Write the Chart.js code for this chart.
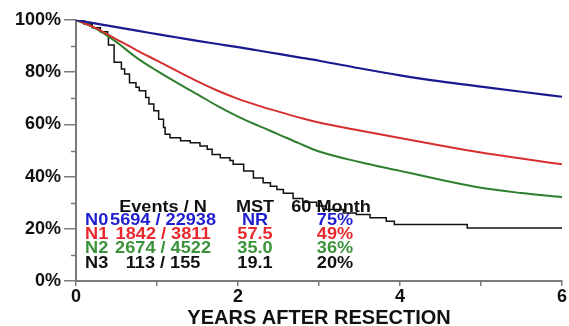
<!DOCTYPE html>
<html>
<head>
<meta charset="utf-8">
<script src="https://cdn.jsdelivr.net/npm/chart.js@4/dist/chart.umd.min.js"></script>
<style>
  html, body { margin: 0; padding: 0; background: #ffffff; }
  #wrap { width: 569px; height: 326px; position: relative; }
</style>
</head>
<body>
<div id="wrap"><canvas id="c" width="569" height="326"></canvas></div>
<script>
// ---- data ----
const groups = ['N0', 'N1', 'N2', 'N3'];
const eventsN = ['5694 / 22938', '1842 / 3811', '2674 / 4522', '113 / 155'];
const mstValues = ['NR', '57.5', '35.0', '19.1'];
const month60 = ['75%', '49%', '36%', '20%'];

const yearGrid = [0, 0.25, 0.5, 0.75, 1, 1.25, 1.5, 1.75, 2, 2.25, 2.5, 2.75, 3, 3.5, 4, 4.5, 5, 5.5, 6];
const n0Survival = [100, 98.6, 97.3, 95.9, 94.6, 93.3, 92.0, 90.8, 89.6, 88.3, 87.0, 85.7, 84.4, 81.5, 78.8, 76.5, 74.5, 72.5, 70.6];
const n1Survival = [100, 96.8, 92.6, 88.4, 84.4, 80.4, 76.5, 72.9, 69.8, 67.2, 64.9, 62.7, 60.7, 57.7, 54.8, 51.9, 49.2, 46.9, 44.7];
const n2Survival = [100, 96.6, 91.5, 85.5, 80.5, 75.9, 71.5, 67.0, 63.0, 59.5, 56.2, 52.8, 49.6, 45.6, 42.2, 38.8, 35.7, 33.7, 32.1];

const n3Years = [0, 0.1, 0.2, 0.3, 0.39, 0.4, 0.47, 0.56, 0.6, 0.66, 0.74, 0.78, 0.86, 0.9, 0.96, 1.02, 1.08, 1.1, 1.16, 1.29, 1.41, 1.53, 1.62, 1.68, 1.78, 1.9, 1.94, 2.07, 2.19, 2.31, 2.4, 2.48, 2.56, 2.68, 2.8, 2.97, 3.09, 3.3, 3.46, 3.63, 3.83, 3.93, 4.83, 6];
const n3Survival = [100, 98.5, 97, 95.5, 94, 90.4, 83.8, 81.2, 79.3, 76, 74.2, 72.9, 70.3, 67.8, 65.2, 62, 58.8, 56.2, 54.9, 53.7, 53, 51.7, 50.5, 48.5, 47.2, 46.2, 44.7, 42.1, 39.5, 37.6, 36.3, 35.1, 33.6, 31.6, 30.2, 28.7, 27.4, 26.1, 25.5, 24.2, 22.9, 21.6, 20.3, 20.3];

const xTickLabels = [0, 2, 4, 6];
const yTickLabels = [0, 20, 40, 60, 80, 100];

// ---- styles ----
const lineColors = ['#1a1a90', '#d62f2f', '#2f7f2f', '#111111'];
const textColors = ['#1f1fd0', '#e8282c', '#3a923a', '#111111'];

function toPoints(xs, ys) { return xs.map((x, i) => ({ x: x, y: ys[i] })); }

const tableRows = [0, 1, 2, 3].map(i => ({
  g: groups[i], e: eventsN[i], m: mstValues[i], p: month60[i], c: textColors[i]
}));

const legendTable = {
  id: 'legendTable',
  beforeDatasetsDraw(chart) {
    const ctx = chart.ctx;
    const L = chart.chartArea.left;
    const stretch = 1.1;
    function put(text, x, y, align, color) {
      ctx.save();
      ctx.translate(x, y);
      ctx.scale(stretch, 1);
      ctx.font = 'bold 16.5px "Liberation Sans", Arial, sans-serif';
      ctx.textAlign = align;
      ctx.textBaseline = 'alphabetic';
      ctx.fillStyle = color;
      ctx.fillText(text, 0, 0);
      ctx.restore();
    }
    const headerY = 211.5;
    put('Events / N', L + 87, headerY, 'center', '#111');
    put('MST', L + 179, headerY, 'center', '#111');
    put('60 Month', L + 255, headerY, 'center', '#111');
    const rowY = [224.5, 239, 253.3, 267.6];
    tableRows.forEach((r, i) => {
      put(r.g, L + 9, rowY[i], 'left', r.c);
      put(r.e, L + 87, rowY[i], 'center', r.c);
      put(r.m, L + 179, rowY[i], 'center', r.c);
      put(r.p, L + 259, rowY[i], 'center', r.c);
    });
  }
};

const minorTicks = {
  id: 'minorTicks',
  afterDraw(chart) {
    const ctx = chart.ctx;
    const ys = chart.scales.y;
    const L = chart.chartArea.left;
    ctx.save();
    ctx.strokeStyle = '#7a7a7a';
    ctx.lineWidth = 1.5;
    [10, 30, 50, 70, 90].forEach(v => {
      const y = Math.round(ys.getPixelForValue(v)) + 0.5;
      ctx.beginPath();
      ctx.moveTo(L - 5, y);
      ctx.lineTo(L, y);
      ctx.stroke();
    });
    ctx.restore();
  }
};

const whiteBg = {
  id: 'whiteBg',
  beforeDraw(chart) {
    const ctx = chart.ctx;
    ctx.save();
    ctx.fillStyle = '#fff';
    ctx.fillRect(0, 0, chart.width, chart.height);
    ctx.restore();
  }
};

const datasets = [
  { label: 'N0', data: toPoints(yearGrid, n0Survival), borderColor: lineColors[0], borderWidth: 2.2, stepped: false, cubicInterpolationMode: 'monotone' },
  { label: 'N1', data: toPoints(yearGrid, n1Survival), borderColor: lineColors[1], borderWidth: 2, stepped: false, cubicInterpolationMode: 'monotone' },
  { label: 'N2', data: toPoints(yearGrid, n2Survival), borderColor: lineColors[2], borderWidth: 2, stepped: false, cubicInterpolationMode: 'monotone' },
  { label: 'N3', data: toPoints(n3Years, n3Survival), borderColor: lineColors[3], borderWidth: 1.5, stepped: true }
].map(d => Object.assign(d, { pointRadius: 0, fill: false }));

new Chart(document.getElementById('c'), {
  type: 'line',
  data: { datasets: datasets },
  options: {
    responsive: false,
    animation: false,
    devicePixelRatio: 1,
    layout: { padding: { left: 12, right: 0, top: 20, bottom: -2 } },
    plugins: { legend: { display: false }, tooltip: { enabled: false } },
    scales: {
      x: {
        type: 'linear', min: 0, max: 6,
        border: { display: true, color: '#7a7a7a', width: 2 },
        grid: { display: true, drawOnChartArea: false, drawTicks: true, tickLength: 5, color: '#7a7a7a', lineWidth: 1.5 },
        ticks: {
          stepSize: 1, padding: 2, color: '#111',
          font: { family: '"Liberation Sans", Arial, sans-serif', size: 18, weight: 'bold', lineHeight: 1.0 },
          maxRotation: 0, autoSkip: false,
          callback: v => xTickLabels.includes(v) ? String(v) : ''
        },
        title: {
          display: true, text: 'YEARS AFTER RESECTION', color: '#111',
          font: { family: '"Liberation Sans", Arial, sans-serif', size: 20, weight: 'bold', lineHeight: 1.0 },
          padding: { top: 0, bottom: 0 }
        }
      },
      y: {
        type: 'linear', min: 0, max: 100,
        border: { display: true, color: '#7a7a7a', width: 2 },
        grid: { display: true, drawOnChartArea: false, drawTicks: true, tickLength: 12, color: '#7a7a7a', lineWidth: 1.5 },
        ticks: {
          stepSize: 20, padding: 3, color: '#111',
          font: { family: '"Liberation Sans", Arial, sans-serif', size: 18, weight: 'bold' },
          callback: v => yTickLabels.includes(v) ? v + '%' : ''
        }
      }
    }
  },
  plugins: [whiteBg, legendTable, minorTicks]
});
</script>
</body>
</html>
